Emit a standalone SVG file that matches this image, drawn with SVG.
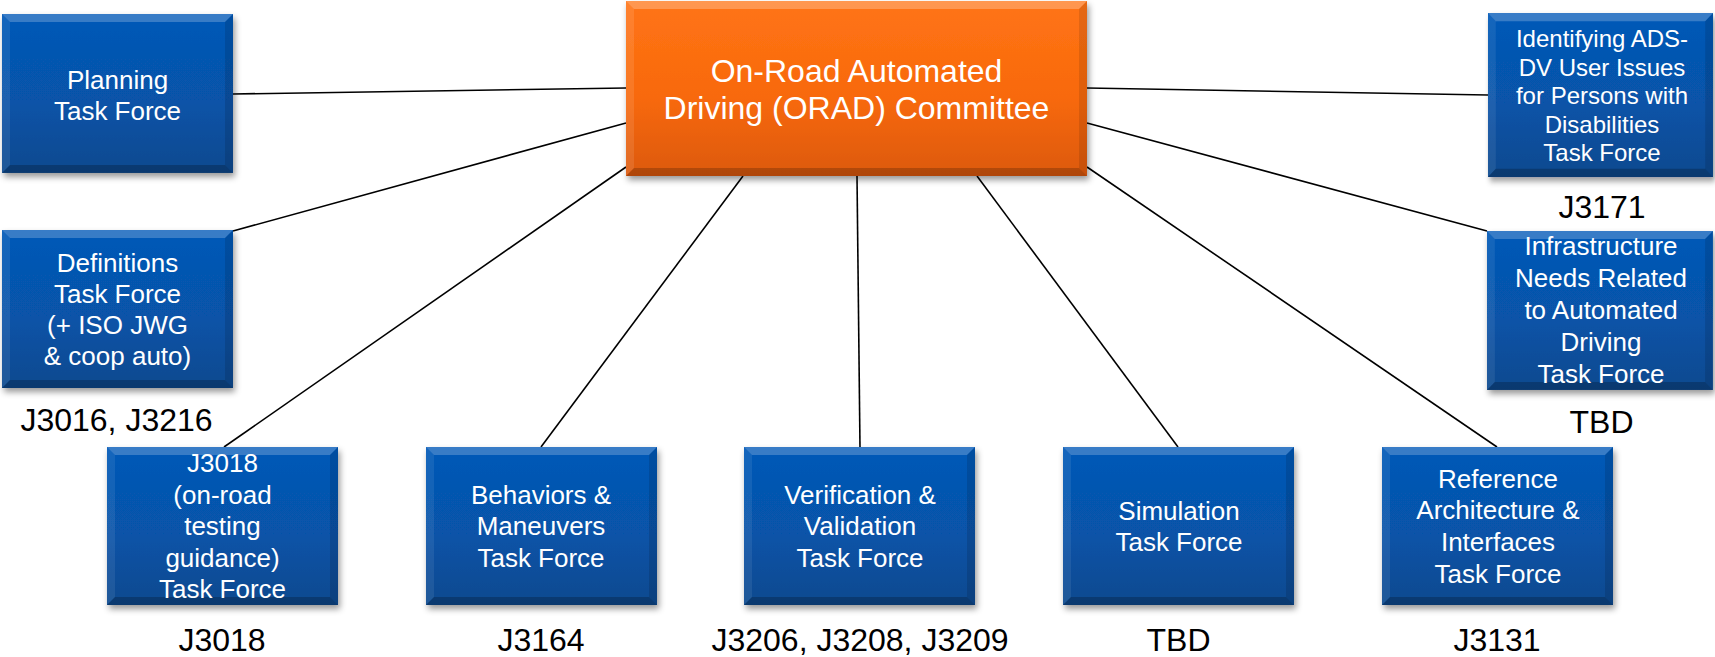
<svg xmlns="http://www.w3.org/2000/svg" xmlns:xlink="http://www.w3.org/1999/xlink" width="1715" height="657" viewBox="0 0 1715 657">
  <defs>
    <linearGradient id="blueBody" x1="0" y1="0" x2="0" y2="1">
      <stop offset="0" stop-color="#0559b8"/>
      <stop offset="0.55" stop-color="#0753a8"/>
      <stop offset="1" stop-color="#0b4a8f"/>
    </linearGradient>
    <linearGradient id="orangeBody" x1="0" y1="0" x2="0" y2="1">
      <stop offset="0" stop-color="#ff7414"/>
      <stop offset="0.55" stop-color="#f8690e"/>
      <stop offset="1" stop-color="#dc590a"/>
    </linearGradient>
    <filter id="shadow" x="-10%" y="-10%" width="125%" height="130%">
      <feDropShadow dx="2" dy="4" stdDeviation="3" flood-color="#000" flood-opacity="0.4"/>
    </filter>
    <!-- standard 231 x 158 task-force box with bevelled edges -->
    <g id="tf-box">
      <rect x="0" y="0" width="231" height="158" fill="url(#blueBody)" filter="url(#shadow)"/>
      <polygon points="0,0 231,0 223,8 8,8" fill="#ffffff" fill-opacity="0.22"/>
      <polygon points="0,0 8,8 8,150 0,158" fill="#ffffff" fill-opacity="0.08"/>
      <polygon points="231,0 231,158 223,150 223,8" fill="#000000" fill-opacity="0.12"/>
      <polygon points="0,158 8,150 223,150 231,158" fill="#000000" fill-opacity="0.22"/>
    </g>
  </defs>
  <style>
    .tf { font-family: "Liberation Sans", Arial, sans-serif; font-size: 26px; fill: #ffffff; text-anchor: middle; }
    .tf-sm { font-size: 24px; }
    .head { font-family: "Liberation Sans", Arial, sans-serif; font-size: 32px; fill: #ffffff; text-anchor: middle; }
    .doc { font-family: "Liberation Sans", Arial, sans-serif; font-size: 32px; fill: #000000; text-anchor: middle; }
    .link { stroke: #000000; stroke-width: 1.6; fill: none; }
  </style>

  <!-- connectors from the committee to each task force -->
  <g id="connectors">
    <line class="link" x1="233" y1="94" x2="626" y2="88"/>
    <line class="link" x1="233" y1="231" x2="626" y2="123"/>
    <line class="link" x1="224" y1="447" x2="626" y2="167"/>
    <line class="link" x1="541" y1="447" x2="743" y2="176"/>
    <line class="link" x1="860" y1="447" x2="857" y2="176"/>
    <line class="link" x1="1178" y1="447" x2="977" y2="176"/>
    <line class="link" x1="1497" y1="447" x2="1087" y2="167"/>
    <line class="link" x1="1087" y1="88" x2="1488" y2="95"/>
    <line class="link" x1="1087" y1="123" x2="1487" y2="231"/>
  </g>

  <!-- committee -->
  <g id="orad-committee">
    <rect x="626" y="1" width="461" height="175" fill="url(#orangeBody)" filter="url(#shadow)"/>
    <polygon points="626,1 1087,1 1079,9 634,9" fill="#ffffff" fill-opacity="0.25"/>
    <polygon points="626,1 634,9 634,168 626,176" fill="#ffffff" fill-opacity="0.1"/>
    <polygon points="1087,1 1087,176 1079,168 1079,9" fill="#000000" fill-opacity="0.1"/>
    <polygon points="626,176 634,168 1079,168 1087,176" fill="#000000" fill-opacity="0.2"/>
    <text class="head" x="856.5" y="82">On-Road Automated</text>
    <text class="head" x="856.5" y="119">Driving (ORAD) Committee</text>
  </g>

  <g id="planning-tf">
    <use xlink:href="#tf-box" transform="translate(2,14) scale(1,1.006)"/>
    <text class="tf" x="117.5" y="88.5">Planning</text>
    <text class="tf" x="117.5" y="119.5">Task Force</text>
  </g>

  <g id="definitions-tf">
    <use xlink:href="#tf-box" transform="translate(2,230)"/>
    <text class="tf" x="117.5" y="271.5">Definitions</text>
    <text class="tf" x="117.5" y="302.7">Task Force</text>
    <text class="tf" x="117.5" y="333.9">(+ ISO JWG</text>
    <text class="tf" x="117.5" y="365.1">&amp; coop auto)</text>
    <text class="doc" x="116.5" y="431">J3016, J3216</text>
  </g>

  <g id="j3018-tf">
    <use xlink:href="#tf-box" transform="translate(107,447)"/>
    <text class="tf" x="222.5" y="472">J3018</text>
    <text class="tf" x="222.5" y="503.5">(on-road</text>
    <text class="tf" x="222.5" y="535">testing</text>
    <text class="tf" x="222.5" y="566.5">guidance)</text>
    <text class="tf" x="222.5" y="598">Task Force</text>
    <text class="doc" x="222" y="651">J3018</text>
  </g>

  <g id="behaviors-tf">
    <use xlink:href="#tf-box" transform="translate(426,447)"/>
    <text class="tf" x="541" y="503.5">Behaviors &amp;</text>
    <text class="tf" x="541" y="535">Maneuvers</text>
    <text class="tf" x="541" y="566.5">Task Force</text>
    <text class="doc" x="541" y="651">J3164</text>
  </g>

  <g id="vv-tf">
    <use xlink:href="#tf-box" transform="translate(744,447)"/>
    <text class="tf" x="860" y="503.5">Verification &amp;</text>
    <text class="tf" x="860" y="535">Validation</text>
    <text class="tf" x="860" y="566.5">Task Force</text>
    <text class="doc" x="860" y="651">J3206, J3208, J3209</text>
  </g>

  <g id="simulation-tf">
    <use xlink:href="#tf-box" transform="translate(1063,447)"/>
    <text class="tf" x="1179" y="520">Simulation</text>
    <text class="tf" x="1179" y="551">Task Force</text>
    <text class="doc" x="1178.5" y="651">TBD</text>
  </g>

  <g id="reference-tf">
    <use xlink:href="#tf-box" transform="translate(1382,447)"/>
    <text class="tf" x="1498" y="487.5">Reference</text>
    <text class="tf" x="1498" y="519">Architecture &amp;</text>
    <text class="tf" x="1498" y="550.5">Interfaces</text>
    <text class="tf" x="1498" y="582.5">Task Force</text>
    <text class="doc" x="1497" y="651">J3131</text>
  </g>

  <g id="disabilities-tf">
    <use xlink:href="#tf-box" transform="translate(1488,13) scale(0.974,1.038)"/>
    <text class="tf tf-sm" x="1602" y="46.5">Identifying ADS-</text>
    <text class="tf tf-sm" x="1602" y="75.5">DV User Issues</text>
    <text class="tf tf-sm" x="1602" y="104">for Persons with</text>
    <text class="tf tf-sm" x="1602" y="132.5">Disabilities</text>
    <text class="tf tf-sm" x="1602" y="161">Task Force</text>
    <text class="doc" x="1602" y="218">J3171</text>
  </g>

  <g id="infrastructure-tf">
    <use xlink:href="#tf-box" transform="translate(1487,231) scale(0.978,1.006)"/>
    <text class="tf" x="1601" y="255">Infrastructure</text>
    <text class="tf" x="1601" y="287">Needs Related</text>
    <text class="tf" x="1601" y="319">to Automated</text>
    <text class="tf" x="1601" y="351">Driving</text>
    <text class="tf" x="1601" y="383">Task Force</text>
    <text class="doc" x="1601.5" y="433">TBD</text>
  </g>
</svg>
